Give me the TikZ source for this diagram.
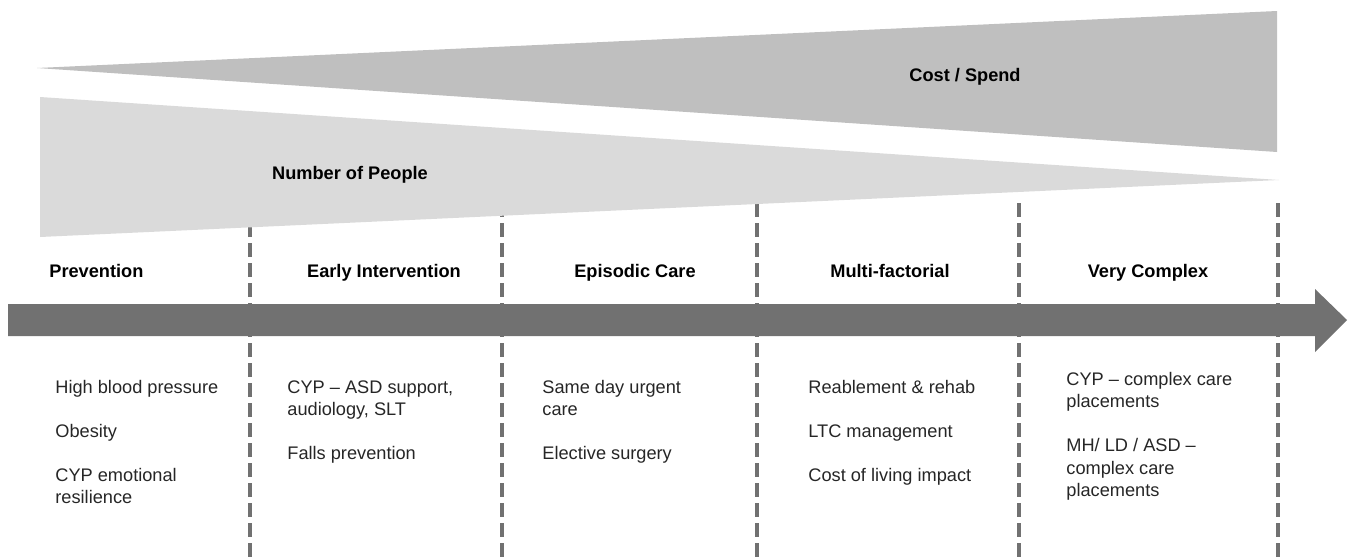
\documentclass[tikz,border=0pt]{standalone}
\usepackage{fontspec}
\setmainfont{Liberation Sans}
\definecolor{costgray}{HTML}{BFBFBF}
\definecolor{peoplegray}{HTML}{DADADA}
\definecolor{axisgray}{HTML}{717171}
\definecolor{itemgray}{HTML}{262626}
\begin{document}
\begin{tikzpicture}[x=0.5pt,y=-0.5pt,
  head/.style={font=\fontsize{9.1}{11.2}\selectfont\bfseries,inner sep=0pt,anchor=base},
  item/.style={font=\fontsize{9.1}{11.2}\selectfont,text=itemgray,align=left,inner sep=0pt,anchor=north west},
  sep/.style={draw=axisgray,line width=2.3pt,dash pattern=on 7pt off 3pt}]
\useasboundingbox (0,0) rectangle (1349,557);
% column borders
\foreach \x in {250,502,757,1019,1278} {\draw[sep] (\x,203) -- (\x,557);}
% wedges
\fill[costgray] (37,68) -- (1277,11) -- (1277,152) -- cycle;
\fill[peoplegray] (40,97) -- (1279,180) -- (40,237) -- cycle;
% axis arrow
\fill[axisgray] (8,304) -- (1315,304) -- (1315,289) -- (1347,320)
  -- (1315,352) -- (1315,336) -- (8,336) -- cycle;
\node[head] (cost) at (965,81) {Cost / Spend};
\node[head] (people) at (350,179) {Number of People};
% stages
\node[head,anchor=base west] (prev) at (49,277) {Prevention};
\node[head] (early) at (384,277) {Early Intervention};
\node[head] (episodic) at (635,277) {Episodic Care};
\node[head] (multi) at (890,277) {Multi-factorial};
\node[head] (vcomplex) at (1148,277) {Very Complex};
% examples
\node[item] (prevlist) at (55,380) {High blood pressure\\[10.8pt]Obesity\\[10.8pt]CYP emotional\\resilience};
\node[item] (earlylist) at (287,380) {CYP -- ASD support,\\audiology, SLT\\[10.8pt]Falls prevention};
\node[item] (episodiclist) at (542,380) {Same day urgent\\care\\[10.8pt]Elective surgery};
\node[item] (multilist) at (808,380) {Reablement \& rehab\\[10.8pt]LTC management\\[10.8pt]Cost of living impact};
\node[item] (vcomplexlist) at (1066,372) {CYP -- complex care\\placements\\[10.8pt]MH/ LD / ASD --\\complex care\\placements};
\end{tikzpicture}
\end{document}
